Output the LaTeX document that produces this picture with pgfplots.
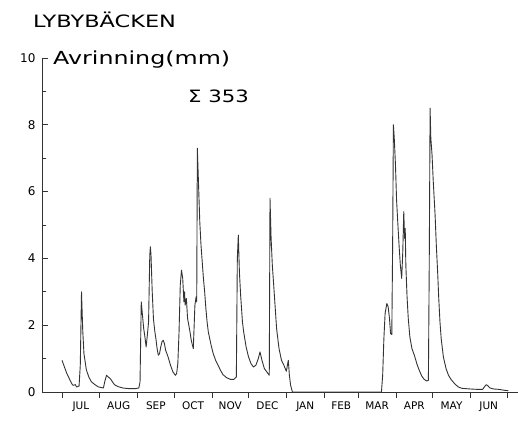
\documentclass[border=0pt]{standalone}
\usepackage{pgfplots}
\pgfplotsset{compat=1.18}
\usepackage{graphicx}
\usepackage{fontspec}
\setmainfont{DejaVu Sans}
\pgfplotstableread{
day val
0 0.95
2 0.75
4 0.55
6 0.40
8 0.25
9 0.20
11 0.22
12 0.15
14 0.18
15 0.8
16 3.0
17 1.85
18 1.15
20 0.66
22 0.45
24 0.31
27 0.22
30 0.15
34 0.12
35 0.3
36.5 0.5
38 0.45
40 0.38
43 0.22
46 0.16
50 0.12
55 0.10
60 0.10
63 0.12
64 0.3
65 2.7
66 2.3
67 1.9
68 1.65
69 1.35
70 1.7
71 2.1
72 4.1
72.5 4.35
73 4.1
74 3.0
75 2.2
76 1.85
77 1.6
78 1.3
79 1.1
80 1.15
81 1.35
82 1.5
83 1.55
84 1.45
85 1.25
87 1.05
89 0.8
91 0.6
93 0.5
94 0.55
95 0.85
96 1.8
97 3.2
98 3.65
99 3.4
100 2.7
100.5 3.0
101 2.6
102 2.8
103 2.2
104 2.0
105 1.8
106 1.55
107 1.4
107.7 1.3
108 1.6
109 2.6
110 2.85
110.5 2.7
111 7.3
112 6.2
113 5.1
114 4.4
115 3.9
116 3.4
117 3.0
118 2.5
119 2.1
120 1.8
122 1.45
124 1.15
126 0.95
128 0.8
130 0.65
132 0.52
135 0.43
138 0.38
141 0.38
143 0.45
143.8 4.0
144.6 4.7
145.5 3.6
146.5 2.9
148 2.1
149 1.8
151 1.35
153 1.05
155 0.85
157 0.75
159 0.8
161 1.0
162.4 1.2
164 0.95
166 0.7
168 0.6
170 0.5
170.6 5.8
171.5 4.6
172.5 3.8
174 3.0
176 1.9
178 1.3
180 0.95
182 0.8
184 0.62
185.6 0.95
186.5 0.5
187.5 0.2
189 0
262 0
263 0.5
264 1.6
265 2.35
266.4 2.65
267.5 2.55
268.6 2.2
269.5 1.75
270.5 1.72
271.2 4.5
271.8 8.0
272.5 7.6
273.5 6.8
274.4 5.75
275.5 5.0
276.6 4.3
277.5 3.8
278.6 3.4
279.5 4.2
280.3 5.4
281 4.6
281.5 4.9
282 3.8
283 2.85
284 2.2
285.3 1.65
287 1.3
289 1.1
291 0.85
293 0.65
295 0.48
297 0.38
299 0.33
300.5 0.35
301.2 3.8
301.9 8.5
302.5 7.6
303.5 7.1
304.5 6.3
306 5.3
307 4.4
308.2 3.5
309 2.8
310 2.1
311 1.6
312.8 1.05
315 0.7
317 0.5
319 0.38
322 0.25
325 0.15
328 0.11
335 0.09
340 0.08
345 0.08
347 0.18
348 0.22
349.5 0.18
351 0.12
354 0.09
358 0.08
363 0.05
366 0.04
}\runoff
\begin{document}
\begin{tikzpicture}[x=1pt,y=1pt]
\useasboundingbox (0,0) rectangle (518,420);
\begin{axis}[at={(42pt,28pt)}, anchor=south west, scale only axis,
  width=476pt, height=334pt,
  xmin=-16.4, xmax=374, ymin=0, ymax=10,
  axis lines=left,
  axis line style={-, line width=0.8pt, black!80},
  xtick={0,31,62,92,123,153,184,215,243,274,304,335,365},
  xticklabels={JUL,AUG,SEP,OCT,NOV,DEC,JAN,FEB,MAR,APR,MAY,JUN},
  x tick label as interval,
  ytick={0,2,...,10}, minor ytick={1,3,...,9},
  xtick align=outside, ytick align=inside,
  major tick length=6pt, minor tick length=4pt,
  tick style={black!80, line width=0.7pt},
  xticklabel style={font=\fontsize{10.5}{10.5}\selectfont},
  yticklabel style={font=\fontsize{12}{12}\selectfont, xshift=-3pt},
  /pgf/number format/assume math mode=true,
  clip=false]
\addplot[black!80, line width=0.9pt, line join=round] table[x=day, y=val] {\runoff};
\end{axis}
\node[anchor=base west, inner sep=0pt, font=\fontsize{17}{17}\selectfont] at (33,392) {\scalebox{1.32}[1]{LYBYBÄCKEN}};
\node[anchor=base west, inner sep=0pt, font=\fontsize{18}{18}\selectfont] at (53,355) {\scalebox{1.32}[1]{Avrinning(mm)}};
\node[anchor=base west, inner sep=0pt, font=\fontsize{17}{17}\selectfont] at (188,317) {\scalebox{1.25}[1]{Σ 353}};
\end{tikzpicture}
\end{document}
